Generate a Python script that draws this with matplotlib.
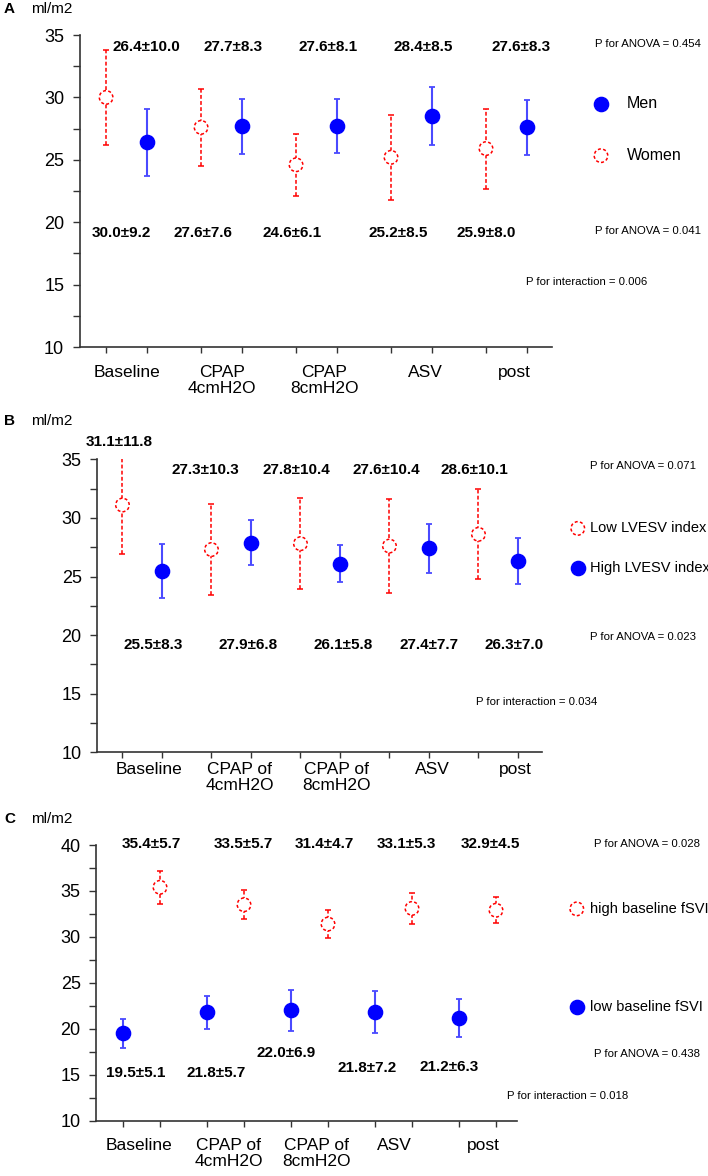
import numpy as np
import matplotlib
matplotlib.use("Agg")
import matplotlib.pyplot as plt
from matplotlib.ticker import MultipleLocator

plt.rcParams['font.family'] = ['Liberation Sans', 'DejaVu Sans']

W, H = 708, 1176

# ---- data ----
cats_A = ["Baseline", "CPAP\n4cmH2O", "CPAP\n8cmH2O", "ASV", "post"]
cats_BC = ["Baseline", "CPAP of\n4cmH2O", "CPAP of\n8cmH2O", "ASV", "post"]

A_women_mean = [30.0, 27.6, 24.6, 25.2, 25.9]
A_women_err = [3.8, 3.1, 2.5, 3.4, 3.2]
A_women_sd = [9.2, 7.6, 6.1, 8.5, 8.0]
A_men_mean = [26.4, 27.7, 27.7, 28.5, 27.6]
A_men_lab = [26.4, 27.7, 27.6, 28.4, 27.6]
A_men_err = [2.7, 2.2, 2.15, 2.3, 2.2]
A_men_sd = [10.0, 8.3, 8.1, 8.5, 8.3]
A_p = ["0.454", "0.041", "0.006"]

B_low_mean = [31.1, 27.3, 27.8, 27.6, 28.6]
B_low_err = [4.2, 3.9, 3.9, 4.0, 3.85]
B_low_sd = [11.8, 10.3, 10.4, 10.4, 10.1]
B_high_mean = [25.5, 27.9, 26.1, 27.4, 26.3]
B_high_err = [2.3, 1.9, 1.6, 2.1, 1.95]
B_high_sd = [8.3, 6.8, 5.8, 7.7, 7.0]
B_p = ["0.071", "0.023", "0.034"]

C_high_mean = [35.4, 33.5, 31.4, 33.1, 32.9]
C_high_err = [1.8, 1.6, 1.5, 1.65, 1.4]
C_high_sd = [5.7, 5.7, 4.7, 5.3, 4.5]
C_low_mean = [19.5, 21.8, 22.0, 21.8, 21.2]
C_low_err = [1.6, 1.8, 2.2, 2.3, 2.05]
C_low_sd = [5.1, 5.7, 6.9, 7.2, 6.3]
C_p = ["0.028", "0.438", "0.018"]

RED = "#ff0000"
BLUE = "#0000ff"
BLUE_BAR = "#4a4aff"
AXC = "#333333"
PSIZE = 8.2


def frac(x, y):
    return x / W, 1 - y / H


def make_axes(x0, x1, y0, y1):
    l, t = frac(x0, y0)
    r, b = frac(x1, y1)
    return fig.add_axes([l, b, r - l, t - b])


def open_series(ax, x, m, e, label):
    eb = ax.errorbar(x, m, yerr=e, fmt='none', ecolor=RED, elinewidth=1.1,
                     capsize=2, capthick=1.1)
    eb[2][0].set_linestyle((0, (2.5, 1.5)))
    sc = ax.scatter(x, m, s=95, facecolors='white', edgecolors=RED,
                    linewidths=1.1, linestyles=(0, (2, 1.5)), zorder=3, label=label)
    return sc


def filled_series(ax, x, m, e, label):
    ax.errorbar(x, m, yerr=e, fmt='none', ecolor=BLUE_BAR, elinewidth=1.5,
                capsize=2.5, capthick=1.3)
    sc = ax.scatter(x, m, s=105, color=BLUE, zorder=3, label=label)
    return sc


def style_axes(ax, ylim, xlim, xticks, major):
    ax.set_ylim(*ylim)
    ax.set_xlim(*xlim)
    ax.yaxis.set_major_locator(MultipleLocator(major))
    ax.yaxis.set_minor_locator(MultipleLocator(major / 2))
    ax.set_xticks(xticks)
    ax.set_xticklabels([])
    for s in ['top', 'right']:
        ax.spines[s].set_visible(False)
    for s in ['left', 'bottom']:
        ax.spines[s].set_color(AXC)
        ax.spines[s].set_linewidth(1.2)
    ax.tick_params(axis='y', which='both', length=5, width=1, color=AXC,
                   labelsize=13, pad=6)
    ax.tick_params(axis='x', length=4, width=1, color=AXC)
    ax.patch.set_alpha(0)


def cat_labels(ax, cats, xs, off):
    for c, x in zip(cats, xs):
        ax.annotate(c, xy=(x, 0), xycoords=ax.get_xaxis_transform(),
                    xytext=(0, -off), textcoords='offset points',
                    ha='center', va='top', fontsize=12.5, linespacing=1.1)


def value_labels(ax, means, sds, xs, ys):
    for m, s, x, y in zip(means, sds, xs, ys):
        ax.text(x, y, f"{m:.1f}\u00b1{s:.1f}", ha='center', va='center',
                fontsize=11, fontweight='bold')


def p_texts(ax, pv, pos):
    labels = [f"P for ANOVA = {pv[0]}", f"P for ANOVA = {pv[1]}",
              f"P for interaction = {pv[2]}"]
    for t, (x, y) in zip(labels, pos):
        ax.text(x, y, t, fontsize=PSIZE, va='center')


fig = plt.figure(figsize=(W / 100, H / 100), dpi=100)
idx = np.arange(5)

# ---- panel A ----
axA = make_axes(79.5, 552, 35, 347)
xw = idx - 0.215
xm = idx + 0.215
hw = open_series(axA, xw, A_women_mean, A_women_err, "Women")
hm = filled_series(axA, xm, A_men_mean, A_men_err, "Men")
style_axes(axA, (10, 35), (-0.495, 4.48), np.sort(np.r_[xw, xm]), 5)
cat_labels(axA, cats_A, [0, 1.005, 2.08, 3.15, 4.08], 13)
value_labels(axA, A_men_lab, A_men_sd, [0.205, 1.121, 2.121, 3.121, 4.153], [34.0] * 5)
value_labels(axA, A_women_mean, A_women_sd, [-0.058, 0.805, 1.742, 2.858, 3.784], [19.15] * 5)
p_texts(axA, A_p, [(4.93, 34.3), (4.93, 19.3), (4.205, 15.2)])
fig.legend(handles=[hm, hw], loc='center left', bbox_to_anchor=frac(593, 129.5),
           frameon=False, fontsize=11.5, handlelength=1.0, handletextpad=1.1,
           labelspacing=2.3, borderpad=0, borderaxespad=0, scatterpoints=1)

# ---- panel B ----
axB = make_axes(97, 542, 459.3, 752.3)
xl = idx - 0.22
xh = idx + 0.22
hl = open_series(axB, xl, B_low_mean, B_low_err, "Low LVESV index")
hh = filled_series(axB, xh, B_high_mean, B_high_err, "High LVESV index")
style_axes(axB, (10, 35), (-0.506, 4.494), np.sort(np.r_[xl, xh]), 5)
cat_labels(axB, cats_BC, [0.079, 1.10, 2.18, 3.26, 4.19], 7)
value_labels(axB, B_low_mean, B_low_sd, [-0.258, 0.708, 1.730, 2.742, 3.730],
             [36.5, 34.1, 34.1, 34.1, 34.1])
value_labels(axB, B_high_mean, B_high_sd, [0.124, 1.191, 2.258, 3.225, 4.18], [19.16] * 5)
p_texts(axB, B_p, [(5.034, 34.43), (5.034, 19.84), (3.753, 14.29)])
fig.legend(handles=[hl, hh], loc='center left', bbox_to_anchor=frac(570.5, 548),
           frameon=False, fontsize=10.5, handlelength=1.0, handletextpad=0.35,
           labelspacing=1.75, borderpad=0, borderaxespad=0, scatterpoints=1)

# ---- panel C ----
axC = make_axes(96, 517, 845, 1120.7)
xlo = idx - 0.22
xhi = idx + 0.22
hhi = open_series(axC, xhi, C_high_mean, C_high_err, "high baseline fSVI")
hlo = filled_series(axC, xlo, C_low_mean, C_low_err, "low baseline fSVI")
style_axes(axC, (10, 40), (-0.542, 4.47), np.sort(np.r_[xlo, xhi]), 5)
cat_labels(axC, cats_BC, [-0.03, 1.04, 2.08, 3.01, 4.07], 12.5)
value_labels(axC, C_high_mean, C_high_sd, [0.113, 1.208, 2.173, 3.149, 4.149], [40.14] * 5)
value_labels(axC, C_low_mean, C_low_sd, [-0.065, 0.887, 1.720, 2.685, 3.661],
             [15.19, 15.19, 17.37, 15.74, 15.84])
p_texts(axC, C_p, [(5.39, 40.1), (5.39, 17.26), (4.351, 12.69)])
fig.legend(handles=[hhi, hlo], loc='center left', bbox_to_anchor=frac(569.5, 958),
           frameon=False, fontsize=10.5, handlelength=1.0, handletextpad=0.4,
           labelspacing=5.8, borderpad=0, borderaxespad=0, scatterpoints=1)

# panel letters and units
for letter, y in [("A", 9), ("B", 421), ("C", 819)]:
    fig.text(*frac(4, y), letter, fontsize=11, fontweight='bold', va='center')
    fig.text(*frac(31, y), "ml/m2", fontsize=11, va='center')

fig.savefig("out.png", dpi=100)
